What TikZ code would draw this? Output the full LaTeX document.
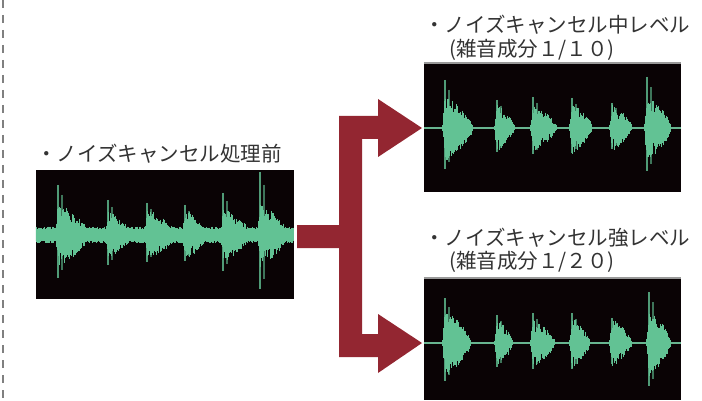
\documentclass[tikz,border=0pt]{standalone}
\usepackage{fontspec}
\newfontfamily\jpfont{Noto Sans CJK JP}
\usetikzlibrary{calc}
\definecolor{forkred}{RGB}{147,38,49}
\definecolor{wavegreen}{RGB}{98,194,148}
\definecolor{panelbg}{RGB}{10,3,5}
\definecolor{lbltext}{RGB}{51,51,51}
\tikzset{
  panel/.style={fill=panelbg, inner sep=0pt, minimum width=257pt},
  lbl/.style={font=\jpfont\fontsize{20.5}{24}\selectfont, text=lbltext, inner sep=0pt, anchor=base west},
  wave/.style={draw=wavegreen, line width=0.9pt},
}
% #1 x, #2 centre y, #3 body, #4 spike, #5 length
\newcommand\burst[5]{%
  \foreach \t in {-3,-2.5,...,#5}{%
    \pgfmathsetmacro\env{(\t<0) ? (1+\t/3) : (1-\t/#5)^0.6}
    \pgfmathsetmacro\hu{#3*\env*(0.45+0.55*rnd)}
    \pgfmathsetmacro\hd{#3*\env*(0.45+0.55*rnd)}
    \draw[wave] (#1+\t,#2-\hu) -- (#1+\t,#2+\hd);
  }
  \draw[wave, line width=1.6pt, draw opacity=0.8] (#1,#2-#4) -- (#1,#2+0.85*#4);
  \draw[wave, line width=1.2pt, draw opacity=0.6] (#1+4,#2-0.8*#4) -- (#1+4,#2+0.7*#4);
}
\begin{document}
\begin{tikzpicture}[x=1pt, y=-1pt]
\useasboundingbox (0,0) rectangle (702,401);
\pgfmathsetseed{7}
\draw[gray, line width=1.2pt, dash pattern=on 8pt off 7pt] (3,0) -- (3,401);
% panels
\node[panel, minimum width=258pt, minimum height=129pt] (pre) at (165,234.5) {};
\node[panel, minimum height=129pt] (mid) at (552.5,127.5) {};
\node[panel, minimum height=122pt] (strong) at (552.5,339) {};
\draw[gray!80, line width=2pt] (mid.north west) -- (mid.north east);
\draw[gray!80, line width=2pt] (strong.north west) -- (strong.north east);
% labels
\node[lbl] (prelbl) at (36,162) {・ノイズキャンセル処理前};
\node[lbl] (midlbl) at (424,33) {・ノイズキャンセル中レベル};
\node[lbl] (midsub) at (449,57) {(雑音成分１/１０)};
\node[lbl] (stronglbl) at (424,245) {・ノイズキャンセル強レベル};
\node[lbl] (strongsub) at (449,268) {(雑音成分１/２０)};
% waveforms
\begin{scope}
\clip (pre.south west) rectangle (pre.north east);
\foreach \x in {36,36.8,...,294}{
  \pgfmathsetmacro\hu{5.5+3*rnd}
  \pgfmathsetmacro\hd{5.5+3*rnd}
  \draw[wave, line width=1.2pt] (\x,235-\hu) -- (\x,235+\hd);
}
\foreach \x/\b/\s/\l in {58/32/50/32, 108/24/35/24, 147/26/32/30, 185/26/30/22, 223/28/42/28, 260/32/63/28}
  \burst{\x}{235}{\b}{\s}{\l};
\end{scope}
\begin{scope}
\clip (mid.south west) rectangle (mid.north east);
\draw[wavegreen!80!gray, line width=2.2pt] ($(mid.west)+(0,0.5)$) -- ($(mid.east)+(0,0.5)$);
\foreach \x/\b/\s/\l in {445/34/48/28, 497/24/28/18, 533/24/31/24, 572/27/30/20, 612/24/25/20, 647/34/51/24}
  \burst{\x}{128}{\b}{\s}{\l};
\end{scope}
\begin{scope}
\clip (strong.south west) rectangle (strong.north east);
\draw[wavegreen!80!gray, line width=2.2pt] ($(strong.west)+(0,4)$) -- ($(strong.east)+(0,4)$);
\foreach \x/\b/\s/\l in {445/34/45/26, 497/24/28/16, 533/25/30/22, 572/26/30/18, 612/24/25/20, 649/34/51/22}
  \burst{\x}{343}{\b}{\s}{\l};
\end{scope}
% fork arrow
\fill[forkred] (297,225) -- (339,225) -- (339,116) -- (378,116) -- (378,99) -- (422,128)
  -- (378,157) -- (378,139) -- (362,139) -- (362,334) -- (378,334) -- (378,314) -- (422,343)
  -- (378,373) -- (378,357) -- (339,357) -- (339,248) -- (297,248) -- cycle;
\end{tikzpicture}
\end{document}
